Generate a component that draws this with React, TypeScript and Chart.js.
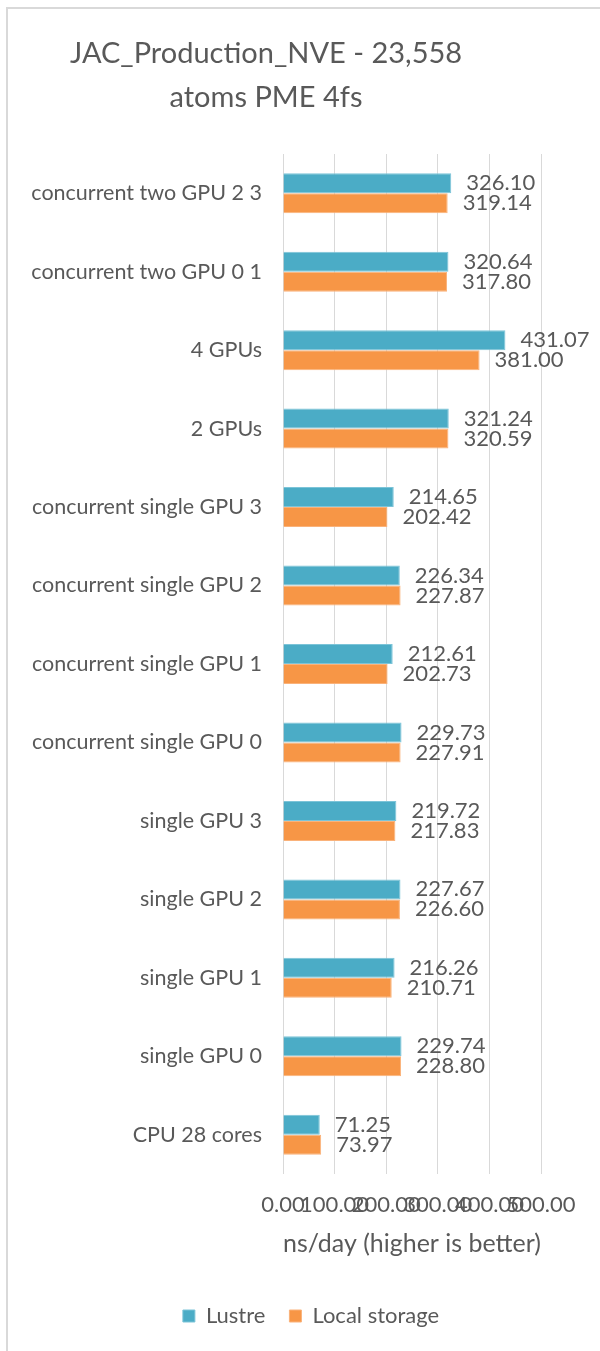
import React, { useEffect, useRef } from "react";
import { Chart, registerables } from "chart.js";

Chart.register(...registerables);

const titleLines = ["JAC_Production_NVE - 23,558", "atoms PME 4fs"];
const categories = [
  "concurrent two GPU 2 3",
  "concurrent two GPU 0 1",
  "4 GPUs",
  "2 GPUs",
  "concurrent single GPU 3",
  "concurrent single GPU 2",
  "concurrent single GPU 1",
  "concurrent single GPU 0",
  "single GPU 3",
  "single GPU 2",
  "single GPU 1",
  "single GPU 0",
  "CPU 28 cores",
];
const lustreValues = [326.1, 320.64, 431.07, 321.24, 214.65, 226.34, 212.61, 229.73, 219.72, 227.67, 216.26, 229.74, 71.25];
const localValues = [319.14, 317.8, 381.0, 320.59, 202.42, 227.87, 202.73, 227.91, 217.83, 226.6, 210.71, 228.8, 73.97];
const seriesNames = ["Lustre", "Local storage"];
const xMin = 0;
const xMax = 500;
const xStep = 100;
const axisTitle = "ns/day (higher is better)";

const FONT = "Lato, 'Open Sans', sans-serif";
const TEXT = "#595959";

const titlePlugin = {
  id: "customTitle",
  afterDraw(chart: any) {
    const ctx = chart.ctx;
    ctx.save();
    ctx.fillStyle = TEXT;
    ctx.font = `29px ${FONT}`;
    ctx.textAlign = "center";
    ctx.textBaseline = "middle";
    ctx.fillText(titleLines[0], 258, 45);
    ctx.fillText(titleLines[1], 258, 89);
    ctx.restore();
  },
};

const labelPlugin = {
  id: "valueLabels",
  afterDatasetsDraw(chart: any) {
    const ctx = chart.ctx;
    ctx.save();
    ctx.fillStyle = TEXT;
    ctx.font = `22px ${FONT}`;
    ctx.textAlign = "left";
    ctx.textBaseline = "middle";
    chart.data.datasets.forEach((ds: any, di: number) => {
      const meta = chart.getDatasetMeta(di);
      meta.data.forEach((bar: any, i: number) => {
        ctx.fillText(Number(ds.data[i]).toFixed(2), bar.x + 15, bar.y);
      });
    });
    ctx.restore();
  },
};

export default function App() {
  const ref = useRef<HTMLCanvasElement | null>(null);
  useEffect(() => {
    if (!ref.current) return;
    const chart = new Chart(ref.current, {
      type: "bar",
      data: {
        labels: categories,
        datasets: [
          {
            label: seriesNames[0],
            data: lustreValues,
            backgroundColor: "#4BACC6",
            borderColor: "#7cc4d8",
            borderWidth: 1,
            categoryPercentage: 0.51,
            barPercentage: 1.0,
          },
          {
            label: seriesNames[1],
            data: localValues,
            backgroundColor: "#F79646",
            borderColor: "#fab27a",
            borderWidth: 1,
            categoryPercentage: 0.51,
            barPercentage: 1.0,
          },
        ],
      },
      options: {
        indexAxis: "y",
        animation: false,
        responsive: false,
        maintainAspectRatio: false,
        layout: { padding: { top: 145, left: 14, right: 0, bottom: 14 } },
        scales: {
          x: {
            min: xMin,
            max: xMax,
            grid: { color: "#d9d9d9", drawTicks: false },
            border: { display: false },
            ticks: {
              stepSize: xStep,
              autoSkip: false,
              maxRotation: 0,
              minRotation: 0,
              padding: 18,
              color: TEXT,
              font: { family: FONT, size: 22 },
              callback: (v: any) => Number(v).toFixed(2),
            },
            title: {
              display: true,
              text: axisTitle,
              color: TEXT,
              font: { family: FONT, size: 25 },
              padding: { top: 0, bottom: 22 },
            },
            afterFit: (s: any) => {
              s.height = 107;
            },
          },
          y: {
            grid: { display: false },
            border: { display: false },
            ticks: {
              padding: 13,
              color: TEXT,
              font: { family: FONT, size: 21.5 },
              autoSkip: false,
            },
            afterFit: (s: any) => {
              s.width = 261;
            },
          },
          yRight: {
            type: "linear",
            axis: "y",
            position: "right",
            grid: { display: false },
            border: { display: false },
            ticks: { display: false },
            afterFit: (s: any) => {
              s.width = 59;
            },
          },
        },
        plugins: {
          title: { display: false },
          tooltip: { enabled: false },
          legend: {
            position: "bottom",
            labels: {
              boxWidth: 12,
              boxHeight: 12,
              padding: 24,
              color: TEXT,
              font: { family: FONT, size: 22 },
            },
          },
        },
      },
      plugins: [titlePlugin, labelPlugin],
    } as any);
    return () => chart.destroy();
  }, []);

  return (
    <div
      style={{
        position: "absolute",
        left: 6,
        top: 7,
        borderLeft: "2px solid #d9d9d9",
        borderTop: "2px solid #d9d9d9",
        width: 594,
        height: 1344,
        background: "#fff",
      }}
    >
      <canvas ref={ref} width={592} height={1342} style={{ display: "block", width: 592, height: 1342 }} />
    </div>
  );
}
